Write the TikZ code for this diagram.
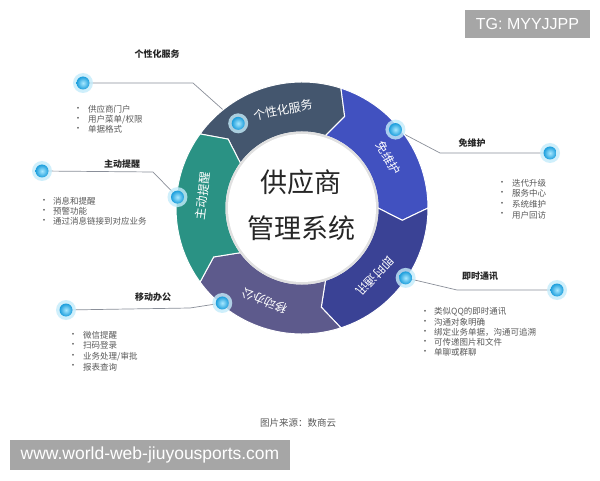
\documentclass[tikz,border=0pt]{standalone}
\usepackage{fontspec}
\setmainfont{Liberation Sans}
\newfontfamily\cjk{Noto Sans CJK SC}
\definecolor{cA}{HTML}{44566E}
\definecolor{cB}{HTML}{4151C0}
\definecolor{cC}{HTML}{3A4295}
\definecolor{cD}{HTML}{5D5A8C}
\definecolor{cE}{HTML}{2A9284}
\definecolor{wm}{HTML}{A6A6A6}
\definecolor{dotin}{HTML}{A8E8FF}
\definecolor{dotout}{HTML}{1C9EDC}
\definecolor{halo}{HTML}{C4ECFB}
\definecolor{leadc}{HTML}{8A8F99}
\def\Ro{126}
\def\Ri{76}
\def\Rm{101}
\def\tipd{7}
\newcommand\ringseg[3]{%
  \fill[#3, draw=white, line width=1pt]
    ([shift={(#1:\Ro)}]C) arc[start angle=#1, end angle=#2, radius=\Ro]
    -- ([shift={(#2-\tipd:\Rm)}]C)
    -- ([shift={(#2:\Ri)}]C) arc[start angle=#2, end angle=#1, radius=\Ri]
    -- ([shift={(#1-\tipd:\Rm)}]C) -- cycle;}
\newcommand\glowdot[1]{%
  \fill[halo, opacity=.8] (#1) circle (10);
  \shade[inner color=dotin, outer color=dotout] (#1) circle (6.5);}
\begin{document}
\begin{tikzpicture}[x=1pt,y=1pt,
  leader/.style={draw=leadc, line width=0.7pt},
  segtext/.style={text=white, font=\cjk\fontsize{12}{12}\selectfont, inner sep=0pt},
  titletext/.style={text=black!85, font=\cjk\bfseries\fontsize{9}{9}\selectfont, inner sep=0pt},
  itemtext/.style={text=black!65, font=\cjk\fontsize{8.5}{8.5}\selectfont, inner sep=0pt, anchor=west},
  bultext/.style={text=black!65, font=\cjk\fontsize{8.5}{8.5}\selectfont, inner sep=0pt},
  centertext/.style={text=black!85, font=\cjk\fontsize{27}{27}\selectfont, inner sep=0pt},
  wmbox/.style={fill=wm, text=white, inner sep=0pt}]
\useasboundingbox (0,0) rectangle (600,480);
\fill[white] (0,0) rectangle (600,480);
\coordinate (C) at (302,272);
% ring dots
\coordinate (d1) at ([shift={(127:106)}]C);
\coordinate (d2) at ([shift={(40:122)}]C);
\coordinate (d3) at ([shift={(-34:125)}]C);
\coordinate (d4) at ([shift={(-130:124)}]C);
\coordinate (d5) at ([shift={(175:125)}]C);
% outer dots and bends
\coordinate (e1) at (83,397);  \coordinate (k1) at (193,397);
\coordinate (e2) at (550,327); \coordinate (k2) at (440,327);
\coordinate (e3) at (557,190); \coordinate (k3) at (457,190);
\coordinate (e4) at (66,170);  \coordinate (k4) at (190,172);
\coordinate (e5) at (42,309);  \coordinate (k5) at (153,308);
\draw[leader] (e1) -- (k1) -- (d1);
\draw[leader] (e2) -- (k2) -- (d2);
\draw[leader] (e3) -- (k3) -- (d3);
\draw[leader] (e4) -- (k4) -- (d4);
\draw[leader] (e5) -- (k5) -- (d5);
% ring
\ringseg{144}{72}{cA}
\ringseg{72}{0}{cB}
\ringseg{0}{-72}{cC}
\ringseg{-72}{-144}{cD}
\ringseg{-144}{-216}{cE}
\fill[black!12] (C) circle (\Ri+0.5);
\fill[white] (C) circle (\Ri-2);
\node[segtext, rotate=11] (s1) at ([shift={(101:100)}]C) {个性化服务};
\node[segtext, rotate=-60] (s2) at ([shift={(30:100)}]C) {免维护};
\node[segtext, rotate=-133] (s3) at ([shift={(-43:100)}]C) {即时通讯};
\node[segtext, rotate=-202] (s4) at ([shift={(-112:100)}]C) {移动办公};
\node[segtext, rotate=83] (s5) at ([shift={(173:100)}]C) {主动提醒};
\node[centertext] (m1) at (301,298) {供应商};
\node[centertext] (m2) at (301,252) {管理系统};
% dots
\glowdot{d1}\glowdot{d2}\glowdot{d3}\glowdot{d4}\glowdot{d5}
\glowdot{e1}\glowdot{e2}\glowdot{e3}\glowdot{e4}\glowdot{e5}
% titles
\node[titletext] (t1) at (157,426) {个性化服务};
\node[titletext] (t2) at (472,337) {免维护};
\node[titletext] (t3) at (480,204) {即时通讯};
\node[titletext] (t4) at (153,183) {移动办公};
\node[titletext] (t5) at (122,316) {主动提醒};
% lists
\foreach \t [count=\i from 0] in {供应商门户, 用户菜单/权限, 单据格式} {
  \node[bultext] (ba\i) at (78,371-10.2*\i) {·};
  \node[itemtext] (ia\i) at (88,371-10.2*\i) {\t};}
\foreach \t [count=\i from 0] in {迭代升级, 服务中心, 系统维护, 用户回访} {
  \node[bultext] (bb\i) at (502,297-10.6*\i) {·};
  \node[itemtext] (ib\i) at (512,297-10.6*\i) {\t};}
\foreach \t [count=\i from 0] in {类似QQ的即时通讯, 沟通对象明确, 绑定业务单据，沟通可追溯, 可传递图片和文件, 单聊或群聊} {
  \node[bultext] (bc\i) at (425,168-10*\i) {·};
  \node[itemtext] (ic\i) at (434,168-10*\i) {\t};}
\foreach \t [count=\i from 0] in {微信提醒, 扫码登录, 业务处理/审批, 报表查询} {
  \node[bultext] (bd\i) at (73,145-10.6*\i) {·};
  \node[itemtext] (id\i) at (83,145-10.6*\i) {\t};}
\foreach \t [count=\i from 0] in {消息和提醒, 预警功能, 通过消息链接到对应业务} {
  \node[bultext] (be\i) at (44,279-10*\i) {·};
  \node[itemtext] (ie\i) at (53,279-10*\i) {\t};}
% footer
\node[text=black!65, font=\cjk\fontsize{9.5}{9.5}\selectfont, inner sep=0pt] (src) at (298,57) {图片来源：数商云};
\node[wmbox, font=\fontsize{16}{16}\selectfont, minimum width=125, minimum height=28] (tg) at (527.5,456) {TG: MYYJJPP};
\node[wmbox, font=\fontsize{17.5}{17.5}\selectfont, minimum width=280, minimum height=30] (www) at (150,25) {www.world-web-jiuyousports.com};
\end{tikzpicture}
\end{document}
